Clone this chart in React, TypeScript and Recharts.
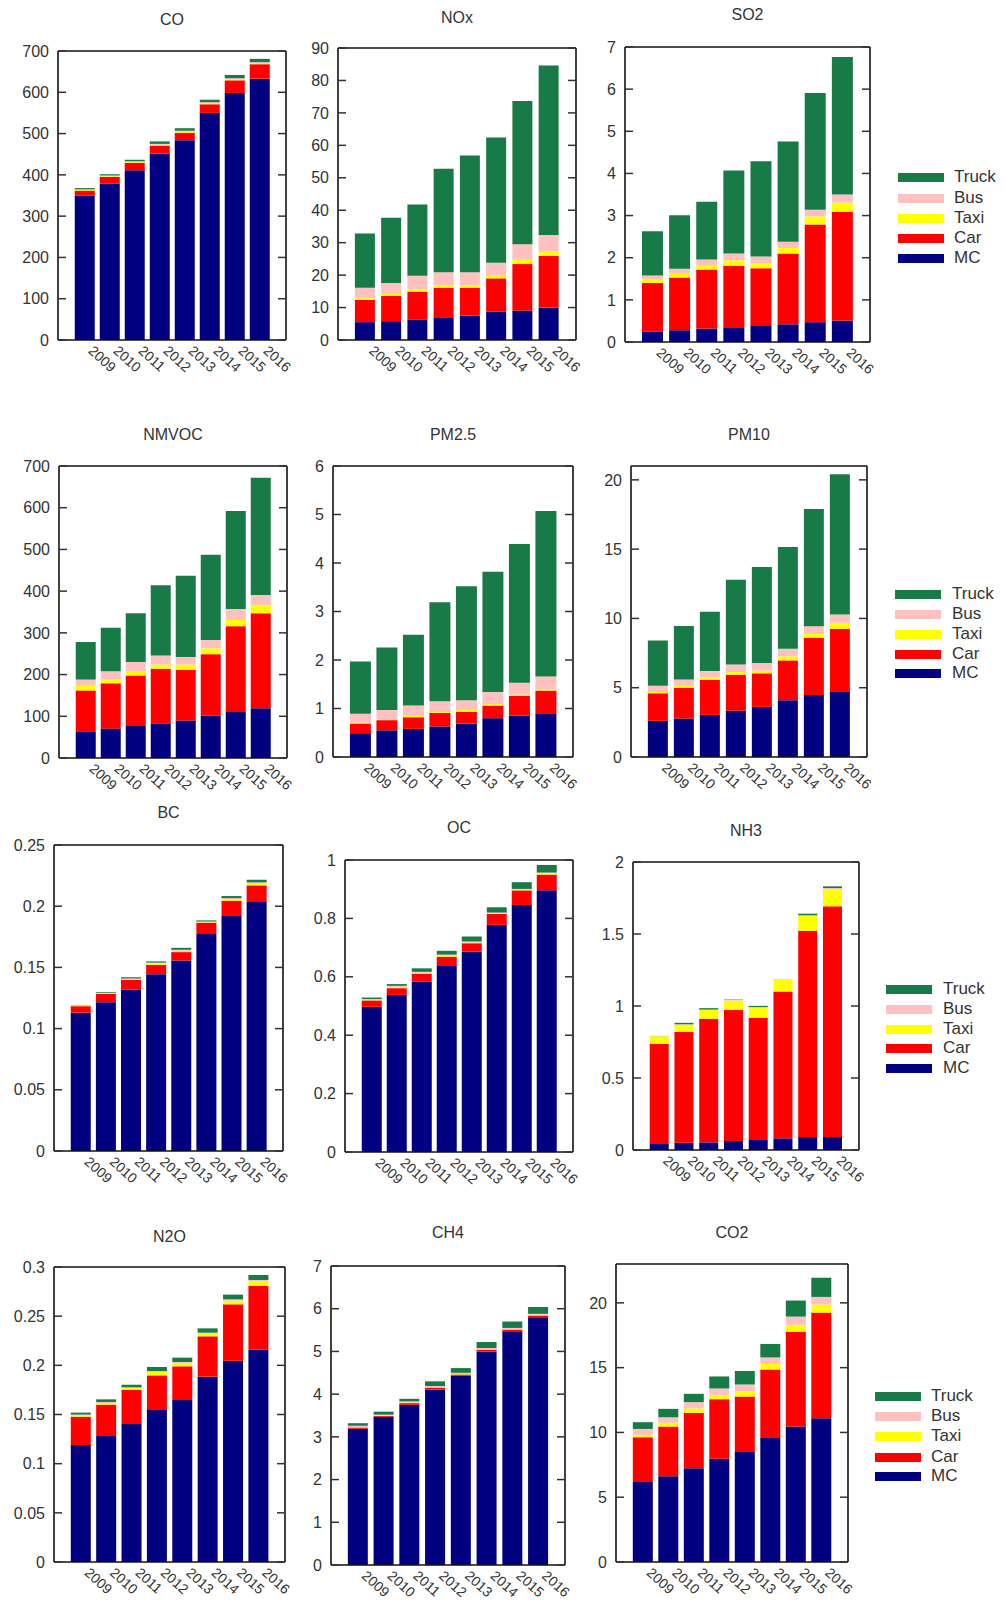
import React from 'react';
import { BarChart, Bar, XAxis, YAxis, ReferenceLine } from 'recharts';

const years = ['2009', '2010', '2011', '2012', '2013', '2014', '2015', '2016'];
const legendOrder = ['Truck', 'Bus', 'Taxi', 'Car', 'MC'];
const stackOrder = ['MC', 'Car', 'Taxi', 'Bus', 'Truck'];
const colors: Record<string, string> = {
  MC: '#000080',
  Car: '#ff0000',
  Taxi: '#ffff00',
  Bus: '#ffc0c0',
  Truck: '#187a47',
};

// CO
const coMC = [350, 379, 411, 452, 484, 550, 598, 633];
const coCar = [12, 16, 18, 19, 18, 21, 31, 35];
const coTaxi = [1.5, 1.5, 1.5, 2, 2, 3, 2, 3];
const coBus = [1.5, 2, 2.5, 2, 3, 2, 3, 2];
const coTruck = [3, 3, 3.5, 6, 6, 6, 8, 8];
// NOx
const noxMC = [5.5, 5.8, 6.2, 7.0, 7.5, 8.7, 9.1, 10.0];
const noxCar = [6.9, 7.8, 8.7, 9.1, 8.6, 10.3, 14.3, 15.9];
const noxTaxi = [0.5, 0.6, 0.8, 0.7, 0.7, 0.8, 1.3, 1.3];
const noxBus = [3.2, 3.4, 4.1, 4.1, 4.1, 4.0, 4.8, 5.2];
const noxTruck = [16.7, 20.1, 22.0, 31.9, 36.0, 38.6, 44.2, 52.2];
// SO2
const so2MC = [0.25, 0.28, 0.32, 0.35, 0.38, 0.42, 0.47, 0.51];
const so2Car = [1.15, 1.25, 1.4, 1.46, 1.37, 1.68, 2.32, 2.58];
const so2Taxi = [0.08, 0.09, 0.09, 0.13, 0.12, 0.13, 0.19, 0.22];
const so2Bus = [0.1, 0.12, 0.15, 0.16, 0.16, 0.15, 0.16, 0.19];
const so2Truck = [1.05, 1.27, 1.37, 1.97, 2.26, 2.38, 2.77, 3.26];
// NMVOC
const nmvocMC = [64, 71, 77, 83, 90, 102, 112, 119];
const nmvocCar = [98, 108, 121, 131, 121, 147, 204, 228];
const nmvocTaxi = [11, 9, 10, 10, 13, 14, 15, 20];
const nmvocBus = [15, 20, 22, 22, 18, 20, 26, 24];
const nmvocTruck = [90, 104, 117, 168, 195, 204, 235, 281];
// PM2.5
const pm25MC = [0.49, 0.55, 0.58, 0.63, 0.69, 0.8, 0.85, 0.9];
const pm25Car = [0.2, 0.21, 0.24, 0.28, 0.24, 0.26, 0.41, 0.47];
const pm25Taxi = [0.02, 0.02, 0.03, 0.02, 0.04, 0.03, 0.03, 0.03];
const pm25Bus = [0.18, 0.19, 0.21, 0.22, 0.2, 0.25, 0.24, 0.26];
const pm25Truck = [1.08, 1.29, 1.46, 2.04, 2.35, 2.48, 2.86, 3.41];
// PM10
const pm10MC = [2.61, 2.78, 3.04, 3.35, 3.62, 4.1, 4.48, 4.69];
const pm10Car = [1.99, 2.2, 2.52, 2.59, 2.42, 2.87, 4.12, 4.56];
const pm10Taxi = [0.09, 0.15, 0.19, 0.19, 0.19, 0.29, 0.29, 0.43];
const pm10Bus = [0.46, 0.47, 0.45, 0.55, 0.55, 0.55, 0.55, 0.6];
const pm10Truck = [3.26, 3.86, 4.29, 6.11, 6.94, 7.35, 8.45, 10.13];
// BC
const bcMC = [0.113, 0.1216, 0.132, 0.1445, 0.1557, 0.1772, 0.1919, 0.2034];
const bcCar = [0.0053, 0.0068, 0.0079, 0.0076, 0.0068, 0.0093, 0.0126, 0.0136];
const bcTaxi = [0.0002, 0.0003, 0.0004, 0.0011, 0.0011, 0.0004, 0.0013, 0.0014];
const bcBus = [0.0004, 0.0005, 0.0007, 0.0007, 0.0008, 0.0006, 0.0008, 0.0011];
const bcTruck = [0.0002, 0.0006, 0.001, 0.001, 0.0016, 0.0009, 0.0017, 0.0021];
// OC
const ocMC = [0.497, 0.538, 0.583, 0.637, 0.686, 0.778, 0.846, 0.896];
const ocCar = [0.022, 0.023, 0.027, 0.032, 0.029, 0.037, 0.05, 0.054];
const ocTaxi = [0.001, 0.005, 0.004, 0.003, 0.002, 0.002, 0.002, 0.004];
const ocBus = [0.004, 0.003, 0.003, 0.004, 0.004, 0.003, 0.003, 0.003];
const ocTruck = [0.005, 0.006, 0.012, 0.013, 0.017, 0.018, 0.023, 0.026];
// NH3
const nh3MC = [0.042, 0.051, 0.053, 0.063, 0.07, 0.081, 0.09, 0.09];
const nh3Car = [0.695, 0.769, 0.858, 0.91, 0.848, 1.02, 1.433, 1.602];
const nh3Taxi = [0.053, 0.051, 0.062, 0.065, 0.072, 0.081, 0.104, 0.12];
const nh3Bus = [0.001, 0.002, 0.002, 0.008, 0.002, 0.001, 0.003, 0.007];
const nh3Truck = [0.001, 0.01, 0.01, 0.002, 0.009, 0.001, 0.011, 0.012];
// N2O
const n2oMC = [0.119, 0.1288, 0.141, 0.1546, 0.1654, 0.1885, 0.2047, 0.2159];
const n2oCar = [0.0288, 0.0312, 0.0339, 0.0352, 0.0336, 0.041, 0.0573, 0.0651];
const n2oTaxi = [0.0014, 0.0017, 0.002, 0.0034, 0.003, 0.0027, 0.0038, 0.0048];
const n2oBus = [0.0007, 0.001, 0.0007, 0.001, 0.0014, 0.001, 0.0013, 0.001];
const n2oTruck = [0.002, 0.0027, 0.0027, 0.0041, 0.0044, 0.0044, 0.0048, 0.0051];
// CH4
const ch4MC = [3.19, 3.47, 3.75, 4.11, 4.43, 5.0, 5.47, 5.8];
const ch4Car = [0.03, 0.02, 0.04, 0.04, 0.03, 0.04, 0.04, 0.04];
const ch4Taxi = [0.01, 0.01, 0.01, 0.01, 0.01, 0.01, 0.01, 0.02];
const ch4Bus = [0.03, 0.02, 0.03, 0.03, 0.03, 0.03, 0.03, 0.02];
const ch4Truck = [0.06, 0.07, 0.06, 0.11, 0.11, 0.14, 0.15, 0.16];
// CO2
const co2MC = [6.17, 6.61, 7.23, 7.97, 8.49, 9.63, 10.45, 11.1];
const co2Car = [3.46, 3.84, 4.28, 4.6, 4.28, 5.23, 7.33, 8.15];
const co2Taxi = [0.18, 0.31, 0.34, 0.33, 0.42, 0.44, 0.52, 0.62];
const co2Bus = [0.46, 0.41, 0.49, 0.49, 0.51, 0.49, 0.64, 0.59];
const co2Truck = [0.52, 0.65, 0.64, 0.93, 1.04, 1.04, 1.24, 1.48];

// y ticks
const ticksCO = [0, 100, 200, 300, 400, 500, 600, 700];
const ticksNOx = [0, 10, 20, 30, 40, 50, 60, 70, 80, 90];
const ticksSO2 = [0, 1, 2, 3, 4, 5, 6, 7];
const ticksNMVOC = [0, 100, 200, 300, 400, 500, 600, 700];
const ticksPM25 = [0, 1, 2, 3, 4, 5, 6];
const ticksPM10 = [0, 5, 10, 15, 20];
const ticksBC = [0, 0.05, 0.1, 0.15, 0.2, 0.25];
const ticksOC = [0, 0.2, 0.4, 0.6, 0.8, 1];
const ticksNH3 = [0, 0.5, 1, 1.5, 2];
const ticksN2O = [0, 0.05, 0.1, 0.15, 0.2, 0.25, 0.3];
const ticksCH4 = [0, 1, 2, 3, 4, 5, 6, 7];
const ticksCO2 = [0, 5, 10, 15, 20];

const FONT = '"Liberation Sans", Arial, sans-serif';

const build = (mc: number[], car: number[], taxi: number[], bus: number[], truck: number[]) =>
  years.map((year, i) => ({ year, MC: mc[i], Car: car[i], Taxi: taxi[i], Bus: bus[i], Truck: truck[i] }));

type Panel = {
  title: string;
  data: any[];
  ticks: number[];
  max: number;
  L: number; R: number; T: number; B: number;
  titleY: number;
};

const panels: Panel[] = [
  { title: 'CO', data: build(coMC, coCar, coTaxi, coBus, coTruck), ticks: ticksCO, max: 700, L: 58, R: 286, T: 51, B: 340, titleY: 20 },
  { title: 'NOx', data: build(noxMC, noxCar, noxTaxi, noxBus, noxTruck), ticks: ticksNOx, max: 90, L: 338, R: 576, T: 48, B: 340, titleY: 18 },
  { title: 'SO2', data: build(so2MC, so2Car, so2Taxi, so2Bus, so2Truck), ticks: ticksSO2, max: 7, L: 625, R: 870, T: 47, B: 342, titleY: 15 },
  { title: 'NMVOC', data: build(nmvocMC, nmvocCar, nmvocTaxi, nmvocBus, nmvocTruck), ticks: ticksNMVOC, max: 700, L: 59, R: 287, T: 466, B: 758, titleY: 435 },
  { title: 'PM2.5', data: build(pm25MC, pm25Car, pm25Taxi, pm25Bus, pm25Truck), ticks: ticksPM25, max: 6, L: 333, R: 573, T: 466, B: 757, titleY: 435 },
  { title: 'PM10', data: build(pm10MC, pm10Car, pm10Taxi, pm10Bus, pm10Truck), ticks: ticksPM10, max: 21, L: 631, R: 867, T: 466, B: 757, titleY: 435 },
  { title: 'BC', data: build(bcMC, bcCar, bcTaxi, bcBus, bcTruck), ticks: ticksBC, max: 0.25, L: 54, R: 283, T: 845, B: 1151, titleY: 813 },
  { title: 'OC', data: build(ocMC, ocCar, ocTaxi, ocBus, ocTruck), ticks: ticksOC, max: 1, L: 345, R: 573, T: 860, B: 1152, titleY: 828 },
  { title: 'NH3', data: build(nh3MC, nh3Car, nh3Taxi, nh3Bus, nh3Truck), ticks: ticksNH3, max: 2, L: 633, R: 859, T: 862, B: 1150, titleY: 831 },
  { title: 'N2O', data: build(n2oMC, n2oCar, n2oTaxi, n2oBus, n2oTruck), ticks: ticksN2O, max: 0.3, L: 54, R: 285, T: 1267, B: 1562, titleY: 1237 },
  { title: 'CH4', data: build(ch4MC, ch4Car, ch4Taxi, ch4Bus, ch4Truck), ticks: ticksCH4, max: 7, L: 331, R: 565, T: 1266, B: 1565, titleY: 1233 },
  { title: 'CO2', data: build(co2MC, co2Car, co2Taxi, co2Bus, co2Truck), ticks: ticksCO2, max: 23, L: 616, R: 848, T: 1264, B: 1562, titleY: 1233 },
];

const legends = [
  { swL: 898, textL: 954, rows: [177, 198, 218, 238, 258] },
  { swL: 895, textL: 952, rows: [594, 614, 634, 654, 673] },
  { swL: 886, textL: 943, rows: [989, 1009, 1029, 1048, 1068] },
  { swL: 875, textL: 931, rows: [1396, 1416, 1436, 1457, 1476] },
];

const YW = 60;
const MR = 30;
const MT = 11;
const XH = 60;

const XTick = (props: any) => {
  const { x, y, payload } = props;
  const ax = x + 3;
  const ay = y + 12;
  return (
    <text x={ax} y={ay} transform={`rotate(42 ${ax} ${ay})`} textAnchor="start" fontSize={14} fill="#333" fontFamily={FONT}>
      {payload.value}
    </text>
  );
};

const EmptyTick = () => <g />;

const PanelChart = ({ p }: { p: Panel }) => {
  const pw = p.R - p.L;
  const ph = p.B - p.T;
  const width = pw + YW + MR + 1;
  const height = ph + MT + XH;
  return (
    <div style={{ position: 'absolute', left: p.L - YW, top: p.T - MT, width, height }}>
      <BarChart width={width} height={height} data={p.data} margin={{ top: MT, right: MR, left: 0, bottom: 0 }} barCategoryGap="11%">
        <XAxis
          dataKey="year"
          height={XH}
          padding={{ left: 14, right: 14 }}
          tickLine={false}
          tickSize={0}
          tickMargin={0}
          tick={<XTick />}
          interval={0}
          axisLine={{ stroke: '#111', strokeWidth: 1.6 }}
        />
        <YAxis
          width={YW}
          domain={[0, p.max]}
          ticks={p.ticks}
          allowDataOverflow
          interval={0}
          tickSize={-8}
          tickMargin={17}
          tick={{ fontSize: 16, fill: '#333', fontFamily: FONT }}
          tickLine={{ stroke: '#333', strokeWidth: 1.5 }}
          axisLine={{ stroke: '#111', strokeWidth: 1.6 }}
        />
        <YAxis
          yAxisId="r"
          orientation="right"
          width={1}
          domain={[0, p.max]}
          ticks={p.ticks}
          allowDataOverflow
          interval={0}
          tickSize={-8}
          tick={<EmptyTick />}
          tickLine={{ stroke: '#333', strokeWidth: 1.5 }}
          axisLine={{ stroke: '#111', strokeWidth: 1.6 }}
        />
        {stackOrder.map((k) => (
          <Bar key={k} dataKey={k} stackId="s" fill={colors[k]} isAnimationActive={false} />
        ))}
        <ReferenceLine y={p.max} stroke="#111" strokeWidth={1.6} />
      </BarChart>
    </div>
  );
};

export default function App() {
  return (
    <div style={{ position: 'absolute', left: 0, top: 0, width: 1006, height: 1607, background: '#fff', fontFamily: FONT }}>
      {panels.map((p) => (
        <React.Fragment key={p.title}>
          <div
            style={{
              position: 'absolute',
              left: (p.L + p.R) / 2 - 100,
              top: p.titleY - 10,
              width: 200,
              lineHeight: '20px',
              textAlign: 'center',
              fontSize: 16,
              color: '#333',
            }}
          >
            {p.title}
          </div>
          <PanelChart p={p} />
        </React.Fragment>
      ))}
      {legends.map((lg, li) => (
        <React.Fragment key={li}>
          {legendOrder.map((k, i) => (
            <React.Fragment key={k}>
              <div
                style={{
                  position: 'absolute',
                  left: lg.swL,
                  top: lg.rows[i] - 4.5,
                  width: 46,
                  height: 9,
                  background: colors[k],
                }}
              />
              <div
                style={{
                  position: 'absolute',
                  left: lg.textL,
                  top: lg.rows[i] - 10,
                  lineHeight: '20px',
                  fontSize: 17,
                  color: '#333',
                }}
              >
                {k}
              </div>
            </React.Fragment>
          ))}
        </React.Fragment>
      ))}
    </div>
  );
}
